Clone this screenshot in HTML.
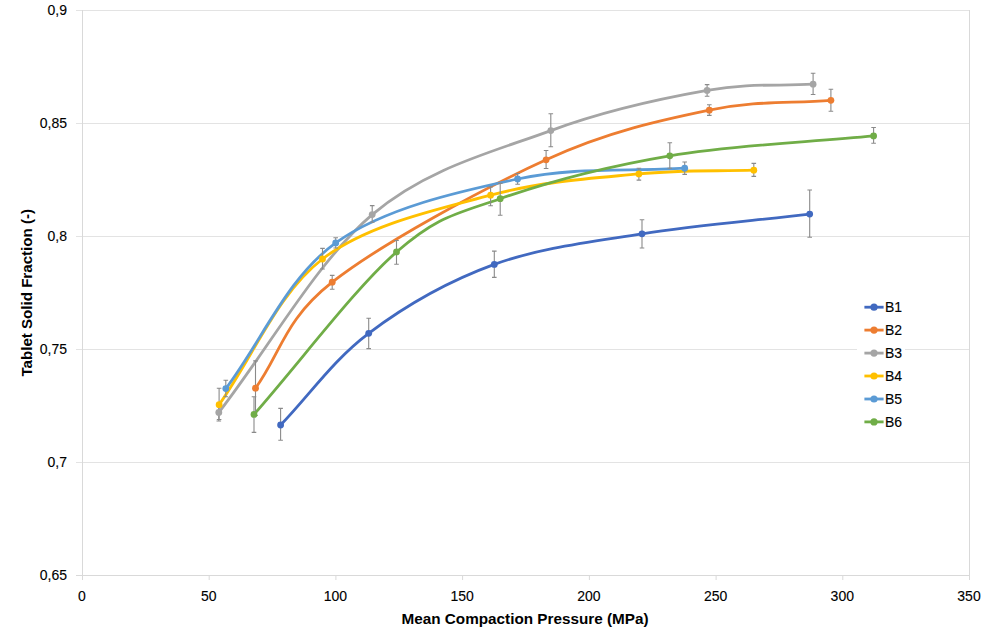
<!DOCTYPE html><html><head><meta charset="utf-8"><style>html,body{margin:0;padding:0;background:#fff;width:1000px;height:630px;overflow:hidden}svg{display:block}text{font-family:"Liberation Sans",sans-serif;-webkit-font-smoothing:antialiased}text.r{stroke:#000;stroke-width:0.12px}</style></head><body>
<svg width="1000" height="630" viewBox="0 0 1000 630">
<rect width="1000" height="630" fill="#fff"/>
<line x1="76" y1="10.5" x2="969" y2="10.5" stroke="#E3E3E3" stroke-width="1"/>
<line x1="76" y1="123.5" x2="969" y2="123.5" stroke="#E3E3E3" stroke-width="1"/>
<line x1="76" y1="236.5" x2="969" y2="236.5" stroke="#E3E3E3" stroke-width="1"/>
<line x1="76" y1="349.5" x2="969" y2="349.5" stroke="#E3E3E3" stroke-width="1"/>
<line x1="76" y1="462.5" x2="969" y2="462.5" stroke="#E3E3E3" stroke-width="1"/>
<line x1="969.5" y1="10" x2="969.5" y2="580" stroke="#D9D9D9" stroke-width="1"/>
<line x1="76" y1="575.5" x2="969" y2="575.5" stroke="#D9D9D9" stroke-width="1"/>
<line x1="82.5" y1="10" x2="82.5" y2="580" stroke="#D9D9D9" stroke-width="1"/>
<line x1="82.5" y1="575" x2="82.5" y2="580" stroke="#D9D9D9" stroke-width="1"/>
<line x1="209.2" y1="575" x2="209.2" y2="580" stroke="#D9D9D9" stroke-width="1"/>
<line x1="335.9" y1="575" x2="335.9" y2="580" stroke="#D9D9D9" stroke-width="1"/>
<line x1="462.6" y1="575" x2="462.6" y2="580" stroke="#D9D9D9" stroke-width="1"/>
<line x1="589.4" y1="575" x2="589.4" y2="580" stroke="#D9D9D9" stroke-width="1"/>
<line x1="716.1" y1="575" x2="716.1" y2="580" stroke="#D9D9D9" stroke-width="1"/>
<line x1="842.8" y1="575" x2="842.8" y2="580" stroke="#D9D9D9" stroke-width="1"/>
<line x1="969.5" y1="575" x2="969.5" y2="580" stroke="#D9D9D9" stroke-width="1"/>
<text x="67" y="15.2" class="r" font-size="14" text-anchor="end" fill="#000">0,9</text>
<text x="67" y="128.2" class="r" font-size="14" text-anchor="end" fill="#000">0,85</text>
<text x="67" y="241.2" class="r" font-size="14" text-anchor="end" fill="#000">0,8</text>
<text x="67" y="354.2" class="r" font-size="14" text-anchor="end" fill="#000">0,75</text>
<text x="67" y="467.2" class="r" font-size="14" text-anchor="end" fill="#000">0,7</text>
<text x="67" y="580.2" class="r" font-size="14" text-anchor="end" fill="#000">0,65</text>
<text x="82.0" y="600.5" class="r" font-size="14" text-anchor="middle" fill="#000">0</text>
<text x="208.7" y="600.5" class="r" font-size="14" text-anchor="middle" fill="#000">50</text>
<text x="335.4" y="600.5" class="r" font-size="14" text-anchor="middle" fill="#000">100</text>
<text x="462.1" y="600.5" class="r" font-size="14" text-anchor="middle" fill="#000">150</text>
<text x="588.9" y="600.5" class="r" font-size="14" text-anchor="middle" fill="#000">200</text>
<text x="715.6" y="600.5" class="r" font-size="14" text-anchor="middle" fill="#000">250</text>
<text x="842.3" y="600.5" class="r" font-size="14" text-anchor="middle" fill="#000">300</text>
<text x="969.0" y="600.5" class="r" font-size="14" text-anchor="middle" fill="#000">350</text>
<text x="401.5" y="624.4" font-size="15" font-weight="bold" textLength="247" lengthAdjust="spacingAndGlyphs" fill="#000">Mean Compaction Pressure (MPa)</text>
<text transform="translate(32,376.5) rotate(-90)" x="0" y="0" font-size="15" font-weight="bold" textLength="167.5" lengthAdjust="spacingAndGlyphs" fill="#000">Tablet Solid Fraction (-)</text>
<path d="M280.6,425.0 C310.0,394.4 333.1,360.1 368.7,333.3 C404.3,306.5 448.8,281.0 494.3,264.4 C539.9,247.8 589.4,242.2 642.0,233.8 C694.6,225.4 753.8,220.7 809.7,214.1" fill="none" stroke="#4169C0" stroke-width="2.8" stroke-linecap="round" stroke-linejoin="round"/>
<path d="M255.5,388.2 C281.1,352.9 283.8,320.3 332.2,282.2 C380.6,244.1 483.2,188.5 546.1,159.8 C609.0,131.1 661.8,120.1 709.3,110.2 C756.8,100.3 790.4,103.6 830.9,100.3" fill="none" stroke="#ED7D31" stroke-width="2.8" stroke-linecap="round" stroke-linejoin="round"/>
<path d="M218.8,412.5 C269.9,346.5 316.9,261.6 372.2,214.6 C427.5,167.6 495.0,151.3 550.8,130.6 C606.6,109.9 663.4,98.1 707.1,90.4 C750.8,82.7 777.8,86.3 813.1,84.2" fill="none" stroke="#A5A5A5" stroke-width="2.8" stroke-linecap="round" stroke-linejoin="round"/>
<path d="M219.1,404.7 C253.6,356.1 277.2,293.9 322.5,259.0 C367.8,224.1 437.9,209.4 490.6,195.2 C543.3,181.0 595.0,178.1 638.9,173.9 C682.8,169.7 715.5,171.4 753.8,170.2" fill="none" stroke="#FFC000" stroke-width="2.8" stroke-linecap="round" stroke-linejoin="round"/>
<path d="M225.8,388.6 C262.4,340.0 287.1,277.8 335.7,242.9 C384.3,208.0 459.4,191.4 517.6,179.0 C575.8,166.6 629.0,171.8 684.7,168.2" fill="none" stroke="#5B9BD5" stroke-width="2.8" stroke-linecap="round" stroke-linejoin="round"/>
<path d="M254.0,414.4 C301.5,360.3 355.5,287.9 396.5,252.0 C437.5,216.1 454.6,214.7 500.2,198.7 C545.8,182.7 607.6,166.3 669.8,155.8 C732.0,145.3 805.7,142.5 873.6,135.9" fill="none" stroke="#70AD47" stroke-width="2.8" stroke-linecap="round" stroke-linejoin="round"/>
<path d="M280.6,408.4 V440.3 M278.3,408.4 H282.9 M278.3,440.3 H282.9" stroke="#8A8A8A" stroke-width="1.1" fill="none"/>
<path d="M368.7,318.3 V348.6 M366.4,318.3 H371.0 M366.4,348.6 H371.0" stroke="#8A8A8A" stroke-width="1.1" fill="none"/>
<path d="M494.3,251.1 V277.4 M492.0,251.1 H496.6 M492.0,277.4 H496.6" stroke="#8A8A8A" stroke-width="1.1" fill="none"/>
<path d="M642.0,219.7 V248.0 M639.7,219.7 H644.3 M639.7,248.0 H644.3" stroke="#8A8A8A" stroke-width="1.1" fill="none"/>
<path d="M809.7,190.0 V237.3 M807.4,190.0 H812.0 M807.4,237.3 H812.0" stroke="#8A8A8A" stroke-width="1.1" fill="none"/>
<path d="M255.5,360.9 V415.5 M253.2,360.9 H257.8 M253.2,415.5 H257.8" stroke="#8A8A8A" stroke-width="1.1" fill="none"/>
<path d="M332.2,275.4 V289.2 M329.9,275.4 H334.5 M329.9,289.2 H334.5" stroke="#8A8A8A" stroke-width="1.1" fill="none"/>
<path d="M546.1,150.5 V168.5 M543.8,150.5 H548.4 M543.8,168.5 H548.4" stroke="#8A8A8A" stroke-width="1.1" fill="none"/>
<path d="M709.3,104.7 V115.4 M707.0,104.7 H711.6 M707.0,115.4 H711.6" stroke="#8A8A8A" stroke-width="1.1" fill="none"/>
<path d="M830.9,89.3 V111.3 M828.6,89.3 H833.2 M828.6,111.3 H833.2" stroke="#8A8A8A" stroke-width="1.1" fill="none"/>
<path d="M218.8,404.0 V421.0 M216.5,404.0 H221.1 M216.5,421.0 H221.1" stroke="#8A8A8A" stroke-width="1.1" fill="none"/>
<path d="M372.2,205.6 V222.2 M369.9,205.6 H374.5 M369.9,222.2 H374.5" stroke="#8A8A8A" stroke-width="1.1" fill="none"/>
<path d="M550.8,113.8 V146.7 M548.5,113.8 H553.1 M548.5,146.7 H553.1" stroke="#8A8A8A" stroke-width="1.1" fill="none"/>
<path d="M707.1,84.6 V96.3 M704.8,84.6 H709.4 M704.8,96.3 H709.4" stroke="#8A8A8A" stroke-width="1.1" fill="none"/>
<path d="M813.1,73.2 V94.5 M810.8,73.2 H815.4 M810.8,94.5 H815.4" stroke="#8A8A8A" stroke-width="1.1" fill="none"/>
<path d="M219.1,388.2 V419.5 M216.8,388.2 H221.4 M216.8,419.5 H221.4" stroke="#8A8A8A" stroke-width="1.1" fill="none"/>
<path d="M322.5,248.4 V269.0 M320.2,248.4 H324.8 M320.2,269.0 H324.8" stroke="#8A8A8A" stroke-width="1.1" fill="none"/>
<path d="M490.6,186.9 V205.7 M488.3,186.9 H492.9 M488.3,205.7 H492.9" stroke="#8A8A8A" stroke-width="1.1" fill="none"/>
<path d="M638.9,168.2 V180.1 M636.6,168.2 H641.2 M636.6,180.1 H641.2" stroke="#8A8A8A" stroke-width="1.1" fill="none"/>
<path d="M753.8,163.4 V176.4 M751.5,163.4 H756.1 M751.5,176.4 H756.1" stroke="#8A8A8A" stroke-width="1.1" fill="none"/>
<path d="M225.8,380.3 V396.8 M223.5,380.3 H228.1 M223.5,396.8 H228.1" stroke="#8A8A8A" stroke-width="1.1" fill="none"/>
<path d="M335.7,237.8 V248.0 M333.4,237.8 H338.0 M333.4,248.0 H338.0" stroke="#8A8A8A" stroke-width="1.1" fill="none"/>
<path d="M517.6,173.5 V184.2 M515.3,173.5 H519.9 M515.3,184.2 H519.9" stroke="#8A8A8A" stroke-width="1.1" fill="none"/>
<path d="M684.7,162.0 V174.4 M682.4,162.0 H687.0 M682.4,174.4 H687.0" stroke="#8A8A8A" stroke-width="1.1" fill="none"/>
<path d="M254.0,396.8 V432.4 M251.7,396.8 H256.3 M251.7,432.4 H256.3" stroke="#8A8A8A" stroke-width="1.1" fill="none"/>
<path d="M396.5,240.5 V264.3 M394.2,240.5 H398.8 M394.2,264.3 H398.8" stroke="#8A8A8A" stroke-width="1.1" fill="none"/>
<path d="M500.2,183.4 V215.3 M497.9,183.4 H502.5 M497.9,215.3 H502.5" stroke="#8A8A8A" stroke-width="1.1" fill="none"/>
<path d="M669.8,142.8 V168.2 M667.5,142.8 H672.1 M667.5,168.2 H672.1" stroke="#8A8A8A" stroke-width="1.1" fill="none"/>
<path d="M873.6,127.5 V143.2 M871.3,127.5 H875.9 M871.3,143.2 H875.9" stroke="#8A8A8A" stroke-width="1.1" fill="none"/>
<circle cx="280.6" cy="425.0" r="3.4" fill="#4169C0"/>
<circle cx="368.7" cy="333.3" r="3.4" fill="#4169C0"/>
<circle cx="494.3" cy="264.4" r="3.4" fill="#4169C0"/>
<circle cx="642.0" cy="233.8" r="3.4" fill="#4169C0"/>
<circle cx="809.7" cy="214.1" r="3.4" fill="#4169C0"/>
<circle cx="255.5" cy="388.2" r="3.4" fill="#ED7D31"/>
<circle cx="332.2" cy="282.2" r="3.4" fill="#ED7D31"/>
<circle cx="546.1" cy="159.8" r="3.4" fill="#ED7D31"/>
<circle cx="709.3" cy="110.2" r="3.4" fill="#ED7D31"/>
<circle cx="830.9" cy="100.3" r="3.4" fill="#ED7D31"/>
<circle cx="218.8" cy="412.5" r="3.4" fill="#A5A5A5"/>
<circle cx="372.2" cy="214.6" r="3.4" fill="#A5A5A5"/>
<circle cx="550.8" cy="130.6" r="3.4" fill="#A5A5A5"/>
<circle cx="707.1" cy="90.4" r="3.4" fill="#A5A5A5"/>
<circle cx="813.1" cy="84.2" r="3.4" fill="#A5A5A5"/>
<circle cx="219.1" cy="404.7" r="3.4" fill="#FFC000"/>
<circle cx="322.5" cy="259.0" r="3.4" fill="#FFC000"/>
<circle cx="490.6" cy="195.2" r="3.4" fill="#FFC000"/>
<circle cx="638.9" cy="173.9" r="3.4" fill="#FFC000"/>
<circle cx="753.8" cy="170.2" r="3.4" fill="#FFC000"/>
<circle cx="225.8" cy="388.6" r="3.4" fill="#5B9BD5"/>
<circle cx="335.7" cy="242.9" r="3.4" fill="#5B9BD5"/>
<circle cx="517.6" cy="179.0" r="3.4" fill="#5B9BD5"/>
<circle cx="684.7" cy="168.2" r="3.4" fill="#5B9BD5"/>
<circle cx="254.0" cy="414.4" r="3.4" fill="#70AD47"/>
<circle cx="396.5" cy="252.0" r="3.4" fill="#70AD47"/>
<circle cx="500.2" cy="198.7" r="3.4" fill="#70AD47"/>
<circle cx="669.8" cy="155.8" r="3.4" fill="#70AD47"/>
<circle cx="873.6" cy="135.9" r="3.4" fill="#70AD47"/>
<rect x="857" y="295" width="48" height="138" fill="#fff"/>
<line x1="864.4" y1="307.2" x2="883.6" y2="307.2" stroke="#4169C0" stroke-width="2.8"/>
<circle cx="874" cy="307.2" r="3.6" fill="#4169C0"/>
<text class="r" x="885" y="312.0" font-size="14" fill="#000">B1</text>
<line x1="864.4" y1="330.1" x2="883.6" y2="330.1" stroke="#ED7D31" stroke-width="2.8"/>
<circle cx="874" cy="330.1" r="3.6" fill="#ED7D31"/>
<text class="r" x="885" y="334.9" font-size="14" fill="#000">B2</text>
<line x1="864.4" y1="353.1" x2="883.6" y2="353.1" stroke="#A5A5A5" stroke-width="2.8"/>
<circle cx="874" cy="353.1" r="3.6" fill="#A5A5A5"/>
<text class="r" x="885" y="357.9" font-size="14" fill="#000">B3</text>
<line x1="864.4" y1="376.0" x2="883.6" y2="376.0" stroke="#FFC000" stroke-width="2.8"/>
<circle cx="874" cy="376.0" r="3.6" fill="#FFC000"/>
<text class="r" x="885" y="380.8" font-size="14" fill="#000">B4</text>
<line x1="864.4" y1="399.0" x2="883.6" y2="399.0" stroke="#5B9BD5" stroke-width="2.8"/>
<circle cx="874" cy="399.0" r="3.6" fill="#5B9BD5"/>
<text class="r" x="885" y="403.8" font-size="14" fill="#000">B5</text>
<line x1="864.4" y1="421.9" x2="883.6" y2="421.9" stroke="#70AD47" stroke-width="2.8"/>
<circle cx="874" cy="421.9" r="3.6" fill="#70AD47"/>
<text class="r" x="885" y="426.8" font-size="14" fill="#000">B6</text>
</svg></body></html>
